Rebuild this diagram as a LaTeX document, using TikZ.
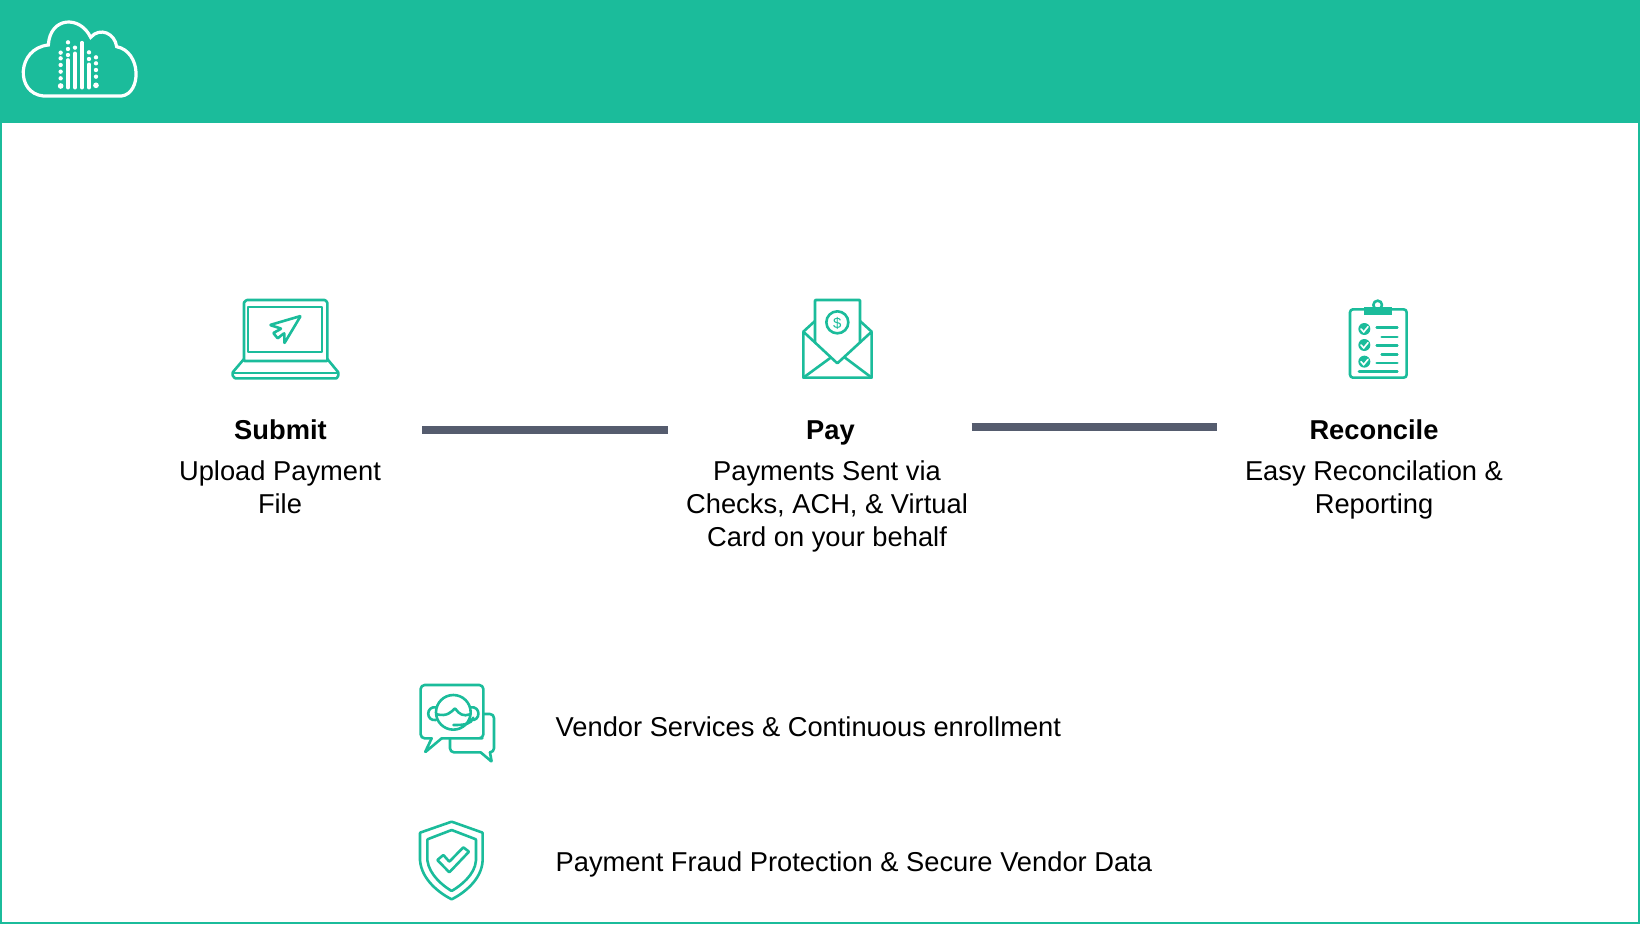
\documentclass[tikz,border=0pt]{standalone}
\usepackage{fontspec}
\setmainfont{Liberation Sans}
\definecolor{brand}{HTML}{1BBC9B}
\definecolor{barcol}{HTML}{555C6E}
\tikzset{
  icon/.style={draw=brand,line width=2.6pt,line join=round,line cap=round,rounded corners=0.6pt},
  iconthin/.style={draw=brand,line width=1.8pt,line join=round,line cap=round},
  logo/.style={draw=white,line width=3.2pt,line cap=round},
  bar/.style={draw=barcol,line width=8.6pt},
  title/.style={font=\fontsize{27.3}{32.8}\selectfont\bfseries,anchor=base,inner sep=0pt},
  body/.style={font=\fontsize{27.3}{32.8}\selectfont,align=center,anchor=base,inner sep=0pt},
  feature/.style={font=\fontsize{27.3}{32.8}\selectfont,anchor=base west,inner sep=0pt},
  zoomed/.style={x=0.3333pt,y=-0.3333pt}
}
\begin{document}
\begin{tikzpicture}[x=1pt,y=-1pt]
\useasboundingbox (0,0) rectangle (1640,924);
% frame and header
\fill[white] (0,0) rectangle (1640,924);
\draw[draw=brand,line width=2pt] (1,1) rectangle (1639,923);
\fill[brand] (0,0) rectangle (1640,123);
% logo
\begin{scope}[shift={(0,0)},zoomed]
\draw[logo] (130,288) -- (365,288) .. controls (425,280) and (425,155) .. (350,140)
  .. controls (345,100) and (300,80) .. (272,112)
  .. controls (240,45) and (150,50) .. (145,135)
  .. controls (50,145) and (45,280) .. (130,288) -- cycle;
\foreach \px/\py in {182/158,182/175,182/195,182/215,182/235,204/127,204/147,204/165,225/143,267/157,267/177,288/172,288/190,288/210,288/230}
  \fill[white] (\px,\py) circle (6.5);
\fill[white] (182,258) circle (8.5);
\fill[white] (288,256) circle (8.5);
\foreach \px/\pa in {204/180,225/160,246/128,267/193}
  \draw[white,line width=3.6pt,line cap=round] (\px,\pa) -- (\px,263);
\end{scope}
% laptop
\begin{scope}[shift={(220,285)},zoomed]
\draw[icon] (72,228) -- (72,52) -- (80,45) -- (315,45) -- (322,52) -- (322,228) -- cycle;
\draw[iconthin] (85,65) rectangle (307,202);
\draw[icon] (72,222) -- (38,262) -- (38,272) -- (45,280) -- (350,280) -- (355,272) -- (355,262) -- (322,222);
\draw[iconthin] (40,265) -- (353,265);
\draw[icon] (242,93) -- (150,120) -- (184,131) -- (160,144) -- (173,160) -- (193,144) -- (193,175) -- cycle;
\end{scope}
% envelope
\begin{scope}[shift={(790,285)},zoomed]
\draw[icon] (75,172) -- (75,45) -- (210,45) -- (210,172);
\draw[icon] (40,140) -- (40,278) -- (245,278) -- (245,140) -- (142,235) -- cycle;
\draw[icon] (40,140) -- (75,108) (245,140) -- (210,108);
\draw[icon] (40,278) -- (122,218) (245,278) -- (165,218);
\draw[icon] (142,112) circle (33);
\node[inner sep=0pt,text=brand,font=\fontsize{15}{15}\selectfont] (dollar) at (142,114) {\$};
\end{scope}
% clipboard
\begin{scope}[shift={(1335,290)},zoomed]
\draw[icon,rounded corners=3pt] (45,58) rectangle (215,263);
\fill[brand] (88,50) rectangle (172,75);
\draw[icon] (128,45) circle (13);
\foreach \cy in {117,165,215}{
  \fill[brand] (88,\cy) circle (18);
  \draw[white,line width=1.6pt,line cap=round] (78,\cy) -- (86,\cy+9) -- (99,\cy-7);
}
\foreach \xa/\ya in {125/112,140/141,125/167,140/193,125/219,72/244}
  \draw[icon] (\xa,\ya) -- (187,\ya);
\end{scope}
% headset
\begin{scope}[shift={(410,675)},zoomed]
\draw[icon,rounded corners=4pt] (95,190) -- (205,190) -- (220,190) -- (220,30) -- (32,30) -- (32,190) -- (65,190);
\draw[icon] (65,190) -- (45,232) -- (95,190);
\draw[icon,rounded corners=4pt] (220,117) -- (252,117) -- (252,232) -- (240,232);
\draw[icon] (240,232) -- (245,260) -- (212,232);
\draw[icon,rounded corners=4pt] (212,232) -- (120,232) -- (120,190);
\draw[icon] (130,112) circle (52);
\draw[icon] (78,97) .. controls (47,92) and (47,140) .. (78,135);
\draw[icon] (182,97) .. controls (213,92) and (213,140) .. (182,135);
\draw[icon] (80,118) .. controls (112,125) and (122,112) .. (135,100)
  .. controls (148,118) and (160,125) .. (180,118);
\draw[icon] (190,128) .. controls (183,148) and (165,150) .. (130,150);
\end{scope}
% shield
\begin{scope}[shift={(410,810)},zoomed]
\draw[icon] (125,35) -- (30,68) -- (30,150) .. controls (35,210) and (90,250) .. (125,268)
  .. controls (160,250) and (215,210) .. (218,150) -- (218,68) -- cycle;
\draw[icon] (125,60) -- (52,88) -- (52,150) .. controls (58,195) and (100,228) .. (125,243)
  .. controls (150,228) and (195,195) .. (198,150) -- (198,88) -- cycle;
\draw[icon] (82,150) -- (100,135) -- (118,155) -- (160,112) -- (177,125) -- (118,187) -- cycle;
\end{scope}
% texts
\node[title] (submit) at (280.5,439) {Submit};
\node[body,anchor=north] (submitb) at (280,460.5) {Upload Payment\\File};
\node[title] (pay) at (830.5,439) {Pay};
\node[body,anchor=north] (payb) at (827,460.5) {Payments Sent via\\Checks, ACH, \& Virtual\\Card on your behalf};
\node[title] (rec) at (1374,439) {Reconcile};
\node[body,anchor=north] (recb) at (1374,460.5) {Easy Reconcilation \&\\Reporting};
\node[feature] (f1) at (555.5,736) {Vendor Services \& Continuous enrollment};
\node[feature] (f2) at (555.5,871) {Payment Fraud Protection \& Secure Vendor Data};
% connecting bars
\coordinate (b1a) at (422,430);
\coordinate (b1b) at (668,430);
\coordinate (b2a) at (971.5,427);
\coordinate (b2b) at (1217,427);
\draw[bar] (b1a) -- (b1b);
\draw[bar] (b2a) -- (b2b);
\end{tikzpicture}
\end{document}
